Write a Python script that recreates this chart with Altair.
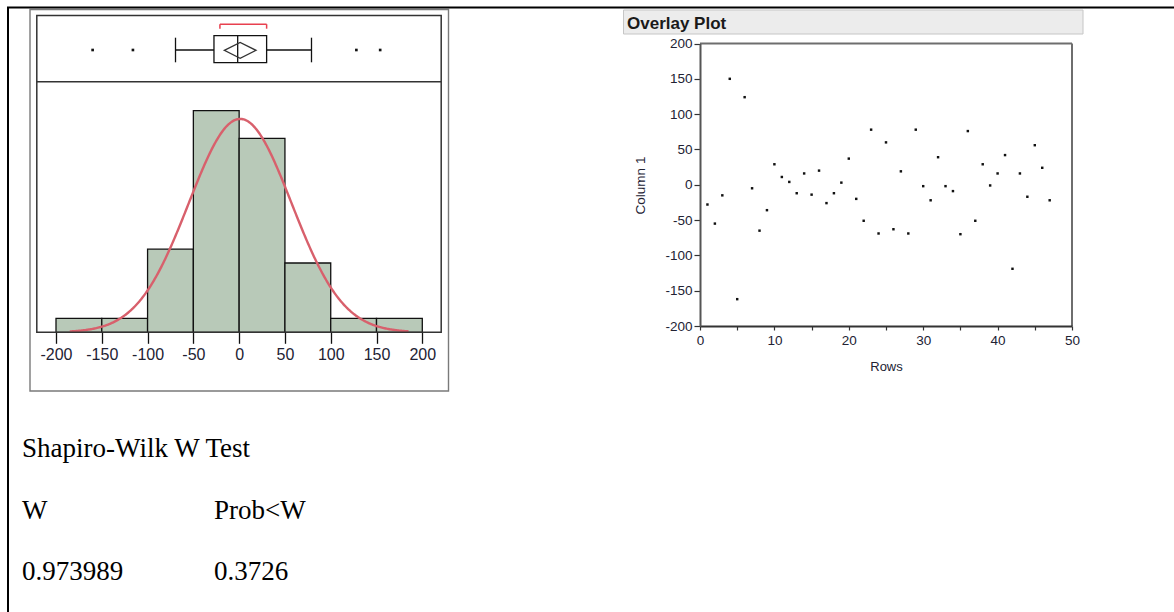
import altair as alt
import pandas as pd

# ---------------- data ----------------
rows = list(range(1, 48))
column1 = [-28, -55, -15, 150, -162, 124, -5, -65, -36, 29, 11, 4, -12, 16, -14, 20,
           -26, -12, 3, 37, -20, -51, 78, -69, 60, -63, 19, -69, 78, -2, -22, 39,
           -2, -9, -70, 76, -51, 29, -1, 16, 42, -119, 16, -17, 56, 24, -22]

bin_start = [-200, -150, -100, -50, 0, 50, 100, 150]
bin_end = [-150, -100, -50, 0, 50, 100, 150, 200]
bin_count = [1, 1, 6, 16, 14, 5, 1, 1]
hist_ticks = [-200, -150, -100, -50, 0, 50, 100, 150, 200]

# fitted normal curve parameters
fit_mean = 1.1
fit_sd = 56.0
fit_peak = 15.4

# box plot summary
box_q1 = -27.5
box_median = -1.6
box_q3 = 30.0
whisker_low = -69.5
whisker_high = 79.0
outliers = [-160, -116, 128, 154]
mean_value = 1.1
shortest_half = [-21, 30]

rows_ticks = [0, 5, 10, 15, 20, 25, 30, 35, 40, 45, 50]
col_ticks = [-200, -150, -100, -50, 0, 50, 100, 150, 200]

test_title = "Shapiro-Wilk W Test"
stat_headers = ["W", "Prob<W"]
stat_values = ["0.973989", "0.3726"]
panel_title = "Overlay Plot"

# ---------------- tables ----------------
one = pd.DataFrame({"k": [0]})
scatter_df = pd.DataFrame({"row": rows, "val": column1})
hist_df = pd.DataFrame({"start": bin_start, "end": bin_end, "count": bin_count,
                        "base": [0] * len(bin_count)})
box_df = pd.DataFrame({"q1": [box_q1], "q3": [box_q3], "median": [box_median],
                       "lo": [whisker_low], "hi": [whisker_high], "mean": [mean_value]})
caps_df = pd.DataFrame({"v": [whisker_low, whisker_high]})
out_df = pd.DataFrame({"v": outliers})
half_df = pd.DataFrame({"lo": [shortest_half[0]], "hi": [shortest_half[1]]})
half_ends = pd.DataFrame({"v": shortest_half})

W, H = 1174, 612
SANS = "Liberation Sans"
SERIF = "Liberation Serif"
INK = "#222233"

# scales (placement of each panel on the page)
hx = alt.Scale(domain=[-200, 200], range=[56, 422.3], nice=False, zero=False)
hy = alt.Scale(domain=[0, 16], range=[332.3, 110.6], nice=False, zero=False)
sx = alt.Scale(domain=[0, 50], range=[700, 1072], nice=False, zero=False)
sy = alt.Scale(domain=[-200, 200], range=[326, 43.5], nice=False, zero=False)

hist_axis = alt.Axis(orient="bottom", offset=332.3 - H, values=hist_ticks, domain=False,
                     grid=False, tickSize=11, tickColor="#111", tickWidth=1.3,
                     labelExpr="toString(datum.value)",
                     labelFont=SANS, labelFontSize=16, labelColor=INK, labelPadding=3,
                     labelFlush=False, labelOverlap=False, title=None, zindex=1)

rows_axis = alt.Axis(orient="bottom", offset=326 - H, values=rows_ticks, grid=False,
                     labelExpr="datum.value % 10 === 0 ? toString(datum.value) : ''",
                     domainColor="#333", domainWidth=2, tickColor="#333", tickSize=4,
                     tickWidth=1.2, labelFont=SANS, labelFontSize=13.5, labelColor=INK,
                     labelPadding=3, labelFlush=False, labelOverlap=False,
                     title="Rows", titleFont=SANS, titleFontSize=13,
                     titleFontWeight="normal", titleColor=INK, titleY=44,
                     titleBaseline="alphabetic", zindex=1)

col_axis = alt.Axis(orient="left", offset=-700, values=col_ticks, grid=False,
                    labelExpr="toString(datum.value)",
                    domainColor="#555", domainWidth=2, tickColor="#333", tickSize=6,
                    tickWidth=1.2, labelFont=SANS, labelFontSize=13.5, labelColor=INK,
                    labelPadding=2, labelFlush=False, labelOverlap=False,
                    title="Column 1", titleFont=SANS, titleFontSize=13.5,
                    titleFontWeight="normal", titleColor=INK, titleX=-60, titleY=185,
                    titleBaseline="middle", titleAngle=270, zindex=1)

layers = []

# ---- histogram ----
layers.append(alt.Chart(hist_df).mark_rect(fill="#b8c9b8", stroke="#111", strokeWidth=1.3).encode(
    x=alt.X("start:Q", scale=hx, axis=hist_axis),
    x2="end:Q",
    y=alt.Y("count:Q", scale=hy, axis=None),
    y2="base:Q"))

curve = (alt.Chart(alt.sequence(-185, 185.5, 1, as_="v"))
         .transform_calculate(c=f"{fit_peak}*exp(-pow(datum.v-({fit_mean}),2)/(2*{fit_sd}*{fit_sd}))")
         .mark_line(color="#d8606c", strokeWidth=2.4)
         .encode(x=alt.X("v:Q", scale=hx, axis=None), y=alt.Y("c:Q", scale=hy, axis=None)))
layers.append(curve)

# ---- frames of the left panel ----
layers.append(alt.Chart(one).mark_rect(fill="transparent", stroke="#7a7a7a", strokeWidth=1.4).encode(
    x=alt.value(30), x2=alt.value(448.5), y=alt.value(9.5), y2=alt.value(391)))
layers.append(alt.Chart(one).mark_rect(fill="transparent", stroke="#333", strokeWidth=1.5).encode(
    x=alt.value(36.8), x2=alt.value(441.2), y=alt.value(15.5), y2=alt.value(332.3)))
layers.append(alt.Chart(one).mark_rule(color="#333", strokeWidth=1.5).encode(
    x=alt.value(36.8), x2=alt.value(441.2), y=alt.value(81.7)))

# ---- box plot ----
layers.append(alt.Chart(box_df).mark_rule(color="#111", strokeWidth=1.3).encode(
    x=alt.X("lo:Q", scale=hx, axis=None), x2="hi:Q", y=alt.value(50)))
layers.append(alt.Chart(caps_df).mark_rule(color="#111", strokeWidth=1.3).encode(
    x=alt.X("v:Q", scale=hx, axis=None), y=alt.value(37.7), y2=alt.value(62.3)))
layers.append(alt.Chart(box_df).mark_rect(fill="white", stroke="#111", strokeWidth=1.3).encode(
    x=alt.X("q1:Q", scale=hx, axis=None), x2="q3:Q", y=alt.value(35.7), y2=alt.value(62.7)))
layers.append(alt.Chart(box_df).mark_rule(color="#111", strokeWidth=1.3).encode(
    x=alt.X("median:Q", scale=hx, axis=None), y=alt.value(35.7), y2=alt.value(62.7)))
layers.append(alt.Chart(box_df).mark_point(shape="M-1,0L0,-0.5L1,0L0,0.5Z", size=1005,
                                           filled=False, stroke="#333", strokeWidth=1.3,
                                           opacity=1).encode(
    x=alt.X("mean:Q", scale=hx, axis=None), y=alt.value(50.3)))
layers.append(alt.Chart(out_df).mark_square(size=7, color="#111", opacity=1).encode(
    x=alt.X("v:Q", scale=hx, axis=None), y=alt.value(50)))
layers.append(alt.Chart(half_df).mark_rule(color="#e8404f", strokeWidth=1.5).encode(
    x=alt.X("lo:Q", scale=hx, axis=None), x2="hi:Q", y=alt.value(24.2)))
layers.append(alt.Chart(half_ends).mark_rule(color="#e8404f", strokeWidth=1.5).encode(
    x=alt.X("v:Q", scale=hx, axis=None), y=alt.value(24.2), y2=alt.value(28.7)))

# ---- overlay plot ----
layers.append(alt.Chart(one).mark_rect(fill="#ececec", stroke="#c6c6c6", strokeWidth=1).encode(
    x=alt.value(623.5), x2=alt.value(1083), y=alt.value(10), y2=alt.value(34)))
layers.append(alt.Chart(one).mark_text(align="left", baseline="alphabetic", font=SANS,
                                       fontSize=17, fontWeight="bold", color="#1a1a1a").encode(
    x=alt.value(627), y=alt.value(28.5), text=alt.value(panel_title)))
layers.append(alt.Chart(one).mark_rule(color="#6e6e6e", strokeWidth=2).encode(
    x=alt.value(700), x2=alt.value(1072), y=alt.value(43.5)))
layers.append(alt.Chart(one).mark_rule(color="#6e6e6e", strokeWidth=2).encode(
    x=alt.value(1072), y=alt.value(43.5), y2=alt.value(326)))
layers.append(alt.Chart(scatter_df).mark_square(size=6, color="#111", opacity=1).encode(
    x=alt.X("row:Q", scale=sx, axis=rows_axis),
    y=alt.Y("val:Q", scale=sy, axis=col_axis)))

# ---- Shapiro-Wilk text ----
txt = dict(align="left", baseline="alphabetic", font=SERIF, fontSize=27, color="#000")
layers.append(alt.Chart(one).mark_text(**txt).encode(
    x=alt.value(22), y=alt.value(457), text=alt.value(test_title)))
layers.append(alt.Chart(one).mark_text(**txt).encode(
    x=alt.value(22), y=alt.value(519), text=alt.value(stat_headers[0])))
layers.append(alt.Chart(one).mark_text(**txt).encode(
    x=alt.value(214), y=alt.value(519), text=alt.value(stat_headers[1])))
layers.append(alt.Chart(one).mark_text(**txt).encode(
    x=alt.value(22), y=alt.value(580), text=alt.value(stat_values[0])))
layers.append(alt.Chart(one).mark_text(**txt).encode(
    x=alt.value(214), y=alt.value(580), text=alt.value(stat_values[1])))

# ---- document table borders ----
layers.append(alt.Chart(one).mark_rule(color="#000", strokeWidth=2).encode(
    x=alt.value(7), x2=alt.value(W), y=alt.value(7.5)))
layers.append(alt.Chart(one).mark_rule(color="#000", strokeWidth=2).encode(
    x=alt.value(8), y=alt.value(7), y2=alt.value(H)))

chart = (alt.layer(*layers)
         .resolve_scale(x="independent", y="independent")
         .properties(width=W, height=H, padding=0, background="white",
                     autosize=alt.AutoSizeParams(type="none"))
         .configure_view(strokeWidth=0))

chart.save("out.html", embed_options={"renderer": "svg", "actions": False})
